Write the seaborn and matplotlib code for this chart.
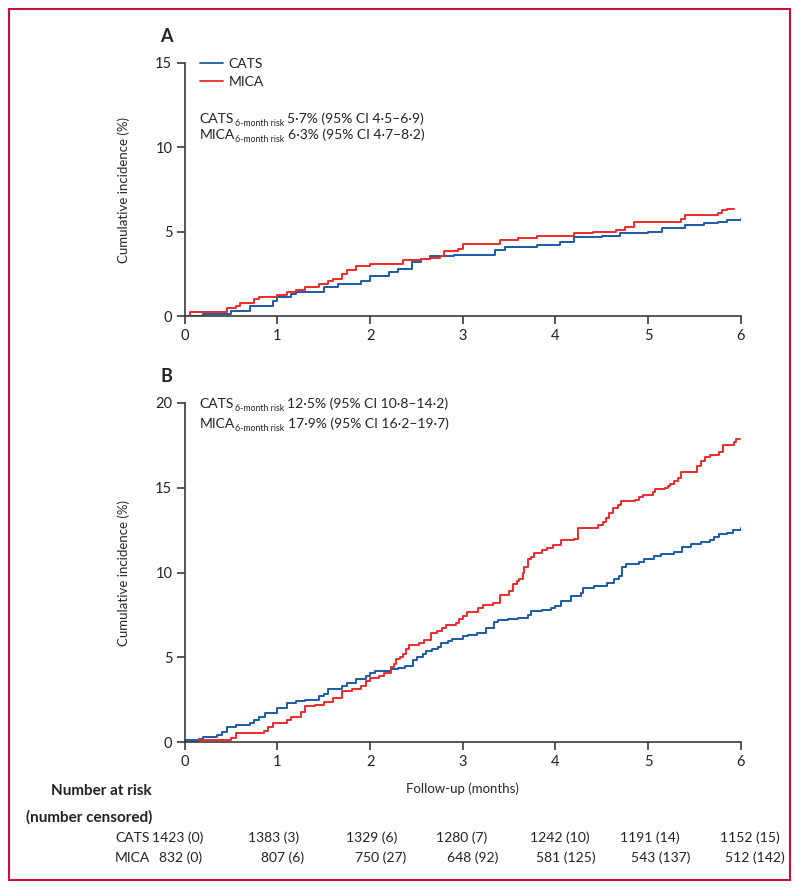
import numpy as np
import pandas as pd
import matplotlib
matplotlib.use('Agg')
import matplotlib.pyplot as plt
import matplotlib.transforms as mtransforms
from matplotlib.lines import Line2D
from matplotlib.patches import Rectangle
import seaborn as sns

# Estilo general
sns.set_style('ticks')
plt.rcParams['font.family'] = ['Lato', 'DejaVu Sans']
plt.rcParams['axes.edgecolor'] = '#3a3a3a'
plt.rcParams['xtick.color'] = '#3a3a3a'
plt.rcParams['ytick.color'] = '#3a3a3a'
plt.rcParams['text.color'] = '#222222'

# 1. DATOS
# Panel A
a_cats_t = [0, 0.2, 0.5, 0.7, 0.95, 1.0, 1.15, 1.2, 1.5, 1.65,
            1.9, 2.0, 2.2, 2.3, 2.45, 2.55, 2.65, 2.9, 3.35, 3.45,
            3.8, 4.05, 4.2, 4.5, 4.7, 5.0, 5.15, 5.4, 5.6, 5.75,
            5.85, 6.0]
a_cats_v = [0, 0.1, 0.3, 0.6, 0.9, 1.1, 1.3, 1.4, 1.7, 1.9,
            2.1, 2.4, 2.6, 2.8, 3.2, 3.4, 3.55, 3.6, 3.9, 4.1,
            4.2, 4.4, 4.7, 4.75, 4.9, 5.0, 5.2, 5.4, 5.5, 5.6,
            5.7, 5.75]
a_mica_t = [0, 0.06, 0.45, 0.55, 0.6, 0.75, 0.8, 1.0, 1.1, 1.2,
            1.3, 1.45, 1.55, 1.6, 1.7, 1.75, 1.85, 2.0, 2.35, 2.55,
            2.65, 2.75, 2.8, 2.95, 3.0, 3.4, 3.6, 3.8, 4.2, 4.4,
            4.65, 4.75, 4.85, 5.35, 5.4, 5.75, 5.8, 5.85, 5.93]
a_mica_v = [0, 0.25, 0.45, 0.6, 0.75, 1.0, 1.15, 1.25, 1.4, 1.55,
            1.75, 1.9, 2.1, 2.2, 2.5, 2.75, 2.95, 3.1, 3.3, 3.4,
            3.45, 3.55, 3.85, 4.0, 4.25, 4.5, 4.6, 4.75, 4.9, 5.0,
            5.1, 5.3, 5.6, 5.75, 6.0, 6.1, 6.3, 6.35, 6.35]

# Panel B
b_cats_t = [0, 0.15, 0.2, 0.35, 0.4, 0.45, 0.55, 0.7, 0.75, 0.8,
            0.87, 1.0, 1.1, 1.2, 1.3, 1.45, 1.5, 1.55, 1.7, 1.75,
            1.85, 1.95, 2.0, 2.05, 2.23, 2.3, 2.38, 2.46, 2.51, 2.57,
            2.6, 2.67, 2.73, 2.77, 2.84, 2.88, 3.0, 3.06, 3.15, 3.25,
            3.34, 3.38, 3.49, 3.6, 3.7, 3.74, 3.85, 3.95, 3.99, 4.06,
            4.17, 4.28, 4.3, 4.42, 4.56, 4.63, 4.69, 4.72, 4.76, 4.9,
            4.96, 5.06, 5.14, 5.28, 5.37, 5.46, 5.57, 5.67, 5.71, 5.76,
            5.85, 5.92, 6.0]
b_cats_v = [0.1, 0.2, 0.3, 0.4, 0.6, 0.9, 1.0, 1.1, 1.3, 1.5,
            1.7, 2.0, 2.3, 2.4, 2.5, 2.7, 2.85, 3.1, 3.3, 3.5,
            3.7, 3.9, 4.1, 4.2, 4.3, 4.35, 4.5, 4.85, 5.0, 5.2,
            5.39, 5.47, 5.63, 5.82, 5.98, 6.1, 6.25, 6.3, 6.45, 6.75,
            7.1, 7.2, 7.25, 7.3, 7.5, 7.7, 7.8, 7.9, 8.0, 8.3,
            8.6, 8.8, 9.1, 9.2, 9.4, 9.6, 9.8, 10.3, 10.5, 10.6,
            10.8, 11.0, 11.1, 11.2, 11.5, 11.7, 11.8, 11.9, 12.1, 12.3,
            12.35, 12.5, 12.65]
b_mica_t = [0, 0.15, 0.5, 0.55, 0.85, 0.9, 0.95, 1.1, 1.15, 1.25,
            1.3, 1.4, 1.5, 1.6, 1.7, 1.8, 1.9, 1.95, 2.0, 2.1,
            2.15, 2.22, 2.26, 2.28, 2.32, 2.35, 2.39, 2.42, 2.53, 2.58,
            2.66, 2.72, 2.78, 2.82, 2.93, 2.96, 3.0, 3.04, 3.16, 3.22,
            3.33, 3.4, 3.5, 3.54, 3.58, 3.61, 3.65, 3.66, 3.7, 3.74,
            3.77, 3.85, 3.91, 3.97, 4.06, 4.2, 4.24, 4.46, 4.51, 4.55,
            4.58, 4.62, 4.67, 4.71, 4.86, 4.9, 4.94, 5.05, 5.07, 5.18,
            5.21, 5.24, 5.28, 5.32, 5.355, 5.53, 5.57, 5.61, 5.67, 5.77,
            5.81, 5.93, 5.95, 5.99]
b_mica_v = [0, 0.1, 0.25, 0.55, 0.65, 0.9, 1.15, 1.3, 1.5, 1.75,
            2.1, 2.2, 2.35, 2.6, 3.0, 3.15, 3.3, 3.6, 3.8, 3.9,
            4.1, 4.4, 4.6, 4.88, 5.0, 5.17, 5.47, 5.7, 5.86, 6.0,
            6.45, 6.57, 6.7, 6.9, 7.04, 7.24, 7.43, 7.69, 7.9, 8.1,
            8.2, 8.7, 8.9, 9.3, 9.5, 9.6, 9.95, 10.34, 10.78, 10.9,
            11.17, 11.33, 11.43, 11.6, 11.92, 12.0, 12.6, 12.8, 13.0, 13.2,
            13.5, 13.8, 14.0, 14.2, 14.3, 14.45, 14.6, 14.75, 14.9, 15.0,
            15.1, 15.2, 15.4, 15.6, 15.95, 16.3, 16.6, 16.8, 16.95, 17.1,
            17.55, 17.7, 17.85, 17.9]

grupos = ['CATS', 'MICA']
colores = {'CATS': '#1a5ba6', 'MICA': '#ee2a2a'}

riesgo_a = ['5·7% (95% CI 4·5–6·9)', '6·3% (95% CI 4·7–8·2)']
riesgo_b = ['12·5% (95% CI 10·8–14·2)', '17·9% (95% CI 16·2–19·7)']

meses_tabla = [0, 1, 2, 3, 4, 5, 6]
cats_riesgo = ['1423 (0)', '1383 (3)', '1329 (6)', '1280 (7)', '1242 (10)', '1191 (14)', '1152 (15)']
mica_riesgo = ['832 (0)', '807 (6)', '750 (27)', '648 (92)', '581 (125)', '543 (137)', '512 (142)']


def curva(t, v, grupo):
    return pd.DataFrame({'meses': t, 'incidencia': v, 'grupo': grupo})


df_a = pd.concat([curva(a_cats_t, a_cats_v, 'CATS'), curva(a_mica_t, a_mica_v, 'MICA')])
df_b = pd.concat([curva(b_cats_t, b_cats_v, 'CATS'), curva(b_mica_t, b_mica_v, 'MICA')])

# 2. FIGURA
fig = plt.figure(figsize=(8, 8.91), dpi=100)
ax_a = fig.add_axes([0.231, 0.6453, 0.695, 0.284])
ax_b = fig.add_axes([0.231, 0.1672, 0.695, 0.3805])

for ax, df, ymax, yticks in [(ax_a, df_a, 15, [0, 5, 10, 15]), (ax_b, df_b, 20, [0, 5, 10, 15, 20])]:
    sns.lineplot(data=df, x='meses', y='incidencia', hue='grupo', hue_order=grupos,
                 palette=colores, estimator=None, drawstyle='steps-post',
                 linewidth=1.4, legend=False, ax=ax)
    ax.set_xlim(0, 6)
    ax.set_ylim(0, ymax)
    ax.set_xticks(range(7))
    ax.set_yticks(yticks)
    ax.tick_params(axis='both', length=6, width=1.2, labelsize=10.5, labelcolor='#222222')
    ax.tick_params(axis='y', pad=3)
    ax.tick_params(axis='x', pad=3)
    for s in ['left', 'bottom']:
        ax.spines[s].set_linewidth(1.2)
    sns.despine(ax=ax)
    ax.set_xlabel('')
    ax.set_ylabel('Cumulative incidence (%)', fontsize=9.5)
    ax.yaxis.set_label_coords(-0.099, 0.5)

ax_b.set_xlabel('Follow-up (months)', fontsize=9.5, labelpad=10)

# Leyenda panel A
handles = [Line2D([], [], color=colores[g], lw=1.3) for g in grupos]
ax_a.legend(handles, grupos, loc='upper left', bbox_to_anchor=(0.027, 1.02),
            frameon=False, fontsize=10, borderpad=0, borderaxespad=0,
            handlelength=1.65, handletextpad=0.4, labelspacing=0.42)


# Texto de riesgo a 6 meses (con subíndice)
def riesgo(ax, x, y, nombre, texto):
    t0 = ax.text(x, y, nombre, transform=ax.transAxes, fontsize=10,
                 ha='left', va='baseline')
    t1 = ax.annotate('6-month risk', xy=(1, 0), xycoords=t0, xytext=(0.3, -2.3),
                     textcoords='offset points', fontsize=6.3, ha='left', va='bottom')
    ax.annotate(texto, xy=(1, 0), xycoords=(t1, t0), xytext=(2.2, 0),
                textcoords='offset points', fontsize=10, ha='left', va='bottom')


riesgo(ax_a, 0.027, 0.763, 'CATS', riesgo_a[0])
riesgo(ax_a, 0.027, 0.700, 'MICA', riesgo_a[1])
riesgo(ax_b, 0.027, 0.985, 'CATS', riesgo_b[0])
riesgo(ax_b, 0.027, 0.926, 'MICA', riesgo_b[1])

# Etiquetas de panel
fig.text(0.2075, 1 - 36 / 891, 'A', fontsize=13, fontweight='bold', ha='center', va='center')
fig.text(0.2075, 1 - 376 / 891, 'B', fontsize=13, fontweight='bold', ha='center', va='center')

# 3. TABLA DE NÚMERO EN RIESGO
fig.text(0.19, 1 - 791 / 891, 'Number at risk', fontsize=11, fontweight='bold', ha='right', va='center')
fig.text(0.19, 1 - 817 / 891, '(number censored)', fontsize=11, fontweight='bold', ha='right', va='center')
fig.text(0.1875, 1 - 838 / 891, 'CATS', fontsize=10, ha='right', va='center')
fig.text(0.1875, 1 - 858 / 891, 'MICA', fontsize=10, ha='right', va='center')

trans = mtransforms.blended_transform_factory(ax_b.transData, fig.transFigure)
desp_cats = [-7, -4, 2, -1, 4, 2, 9]
desp_mica = [-4, 5, 10, 10, 10, 13, 14]
for m, c, mi, dc, dm in zip(meses_tabla, cats_riesgo, mica_riesgo, desp_cats, desp_mica):
    ax_b.annotate(c, xy=(m, 1 - 838 / 891), xycoords=trans, xytext=(dc * 0.72, 0),
                  textcoords='offset points', fontsize=10, ha='center', va='center',
                  annotation_clip=False)
    ax_b.annotate(mi, xy=(m, 1 - 858 / 891), xycoords=trans, xytext=(dm * 0.72, 0),
                  textcoords='offset points', fontsize=10, ha='center', va='center',
                  annotation_clip=False)

# Marco
fig.patches.append(Rectangle((9 / 800, 1 - 880 / 891), 781 / 800, 871 / 891,
                             transform=fig.transFigure, fill=False,
                             edgecolor='#c4123c', linewidth=1.5))

fig.savefig('out.png', dpi=100)
